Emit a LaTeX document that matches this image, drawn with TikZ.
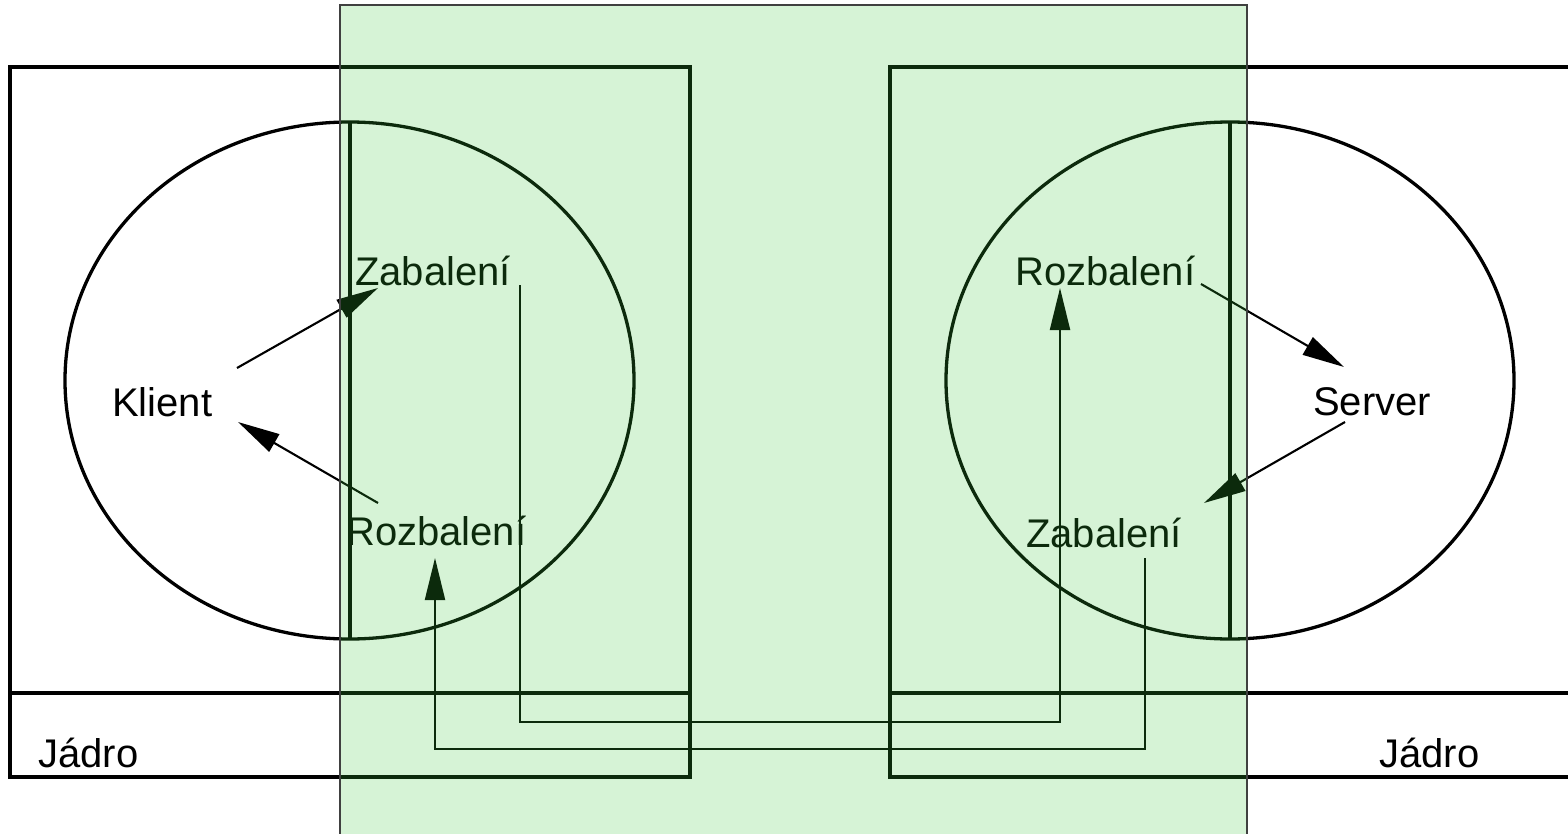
\documentclass[tikz,border=0pt]{standalone}
\usepackage{fontspec}
\setmainfont{Liberation Sans}
\usetikzlibrary{arrows.meta}
\definecolor{ovgreen}{RGB}{60,200,60}
\tikzset{
  frame/.style={line width=3.3pt,black},
  conn/.style={line width=2.1pt,black},
  arr/.style={conn,-{Triangle[length=42pt,width=20pt]}},
  lbl/.style={inner sep=0pt,font=\fontsize{40}{48}\selectfont,anchor=base west},
}
\begin{document}
\begin{tikzpicture}[x=1pt,y=-1pt]
\useasboundingbox (0,0) rectangle (1568,834);
% boxes
\draw[frame] (10,67) rectangle (690,777);
\draw[frame] (10,693) -- (690,693);
\draw[frame] (1568,67) -- (890,67) -- (890,777) -- (1568,777);
\draw[frame] (890,693) -- (1568,693);
% ellipses
\draw[frame] (349.5,380.5) ellipse [x radius=284.5pt, y radius=258.5pt];
\draw[frame] (1230,380.5) ellipse [x radius=284pt, y radius=258.5pt];
\draw[frame] (350,122) -- (350,639);
\draw[frame] (1230,122) -- (1230,639);
% labels
\node[lbl] (zabL) at (355,285) {Zabalení};
\node[lbl] (klient) at (112,416) {Klient};
\node[lbl] (rozL) at (346,545) {Rozbalení};
\node[lbl] (rozR) at (1015,285) {Rozbalení};
\node[lbl] (server) at (1313,415) {Server};
\node[lbl] (zabR) at (1026,547) {Zabalení};
\node[lbl] (jadL) at (38,767) {Jádro};
\node[lbl] (jadR) at (1379,767) {Jádro};
% connector end points
\coordinate (k1) at (237,368);
\coordinate (z1) at (378,288);
\coordinate (r1) at (378,503);
\coordinate (k2) at (238,422);
\coordinate (zLs) at (520,285);
\coordinate (rRt) at (1060,288);
\coordinate (zRs) at (1145,558);
\coordinate (rLt) at (435,558);
\coordinate (rRs) at (1201,284);
\coordinate (s1) at (1344,367);
\coordinate (s2) at (1345,422);
\coordinate (zRt) at (1204,503);
% connectors
\draw[arr] (k1) -- (z1);
\draw[arr] (r1) -- (k2);
\draw[arr] (zLs) |- (1060,722) -- (rRt);
\draw[arr] (zRs) |- (435,749) -- (rLt);
\draw[arr] (rRs) -- (s1);
\draw[arr] (s2) -- (zRt);
% overlay
\fill[ovgreen, fill opacity=0.21] (340,5) rectangle (1247,840);
\draw[line width=1.2pt, black!75] (340,840) -- (340,5) -- (1247,5) -- (1247,840);
\end{tikzpicture}
\end{document}
